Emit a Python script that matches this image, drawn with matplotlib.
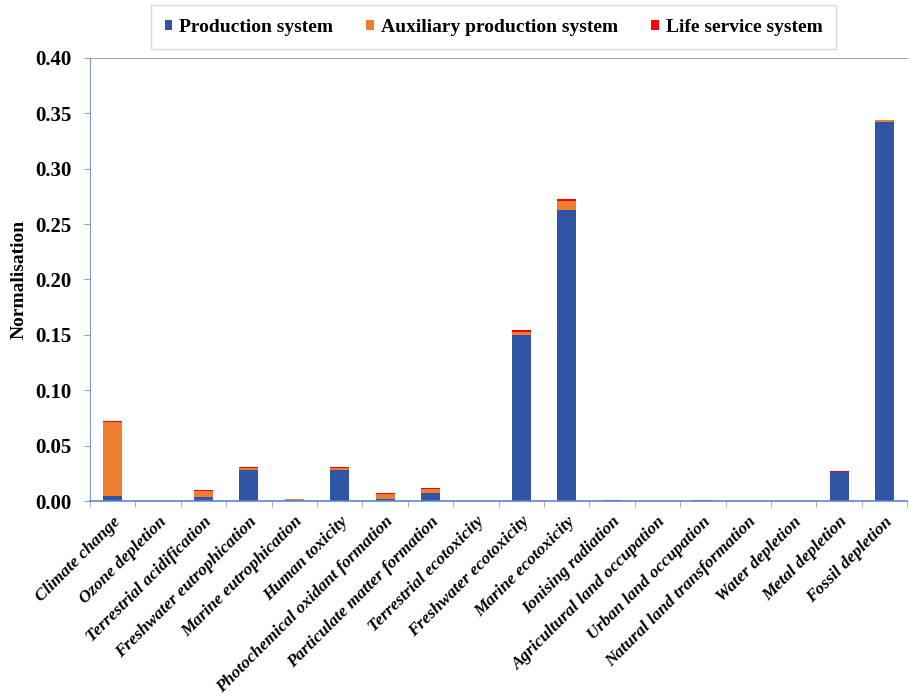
import numpy as np
import matplotlib
matplotlib.use('Agg')
import matplotlib.pyplot as plt

plt.rcParams['font.family'] = ['Liberation Serif', 'DejaVu Serif']
plt.rcParams['font.weight'] = 'bold'

categories = ['Climate change', 'Ozone depletion', 'Terrestrial acidification',
              'Freshwater eutrophication', 'Marine eutrophication', 'Human toxicity',
              'Photochemical oxidant formation', 'Particulate matter formation',
              'Terrestrial ecotoxicity', 'Freshwater ecotoxicity', 'Marine ecotoxicity',
              'Ionising radiation', 'Agricultural land occupation', 'Urban land occupation',
              'Natural land transformation', 'Water depletion', 'Metal depletion',
              'Fossil depletion']

production = [0.005, 0.0, 0.004, 0.028, 0.0005, 0.028, 0.002, 0.007, 0.0005, 0.150,
              0.263, 0.0007, 0.0005, 0.0008, 0.0002, 0.0, 0.026, 0.342]
auxiliary = [0.066, 0.0, 0.005, 0.002, 0.0012, 0.002, 0.004, 0.004, 0.0, 0.003,
             0.008, 0.0, 0.0, 0.0, 0.0, 0.0, 0.0007, 0.0015]
life_service = [0.001, 0.0, 0.001, 0.0005, 0.0003, 0.0007, 0.001, 0.001, 0.0, 0.001,
                0.002, 0.0, 0.0, 0.0, 0.0, 0.0, 0.0003, 0.0005]

blue = '#2F55A4'
orange = '#ED7D31'
red = '#FF0000'

x = np.arange(len(categories))
prod = np.array(production)
aux = np.array(auxiliary)
life = np.array(life_service)

fig = plt.figure(figsize=(9.09, 6.97), dpi=100)
ax = fig.add_axes([0.099, 0.281, 0.899, 0.636])

w = 0.42
ax.bar(x, prod, w, color=blue, label='Production system')
ax.bar(x, aux, w, bottom=prod, color=orange, label='Auxiliary production system')
ax.bar(x, life, w, bottom=prod + aux, color=red, label='Life service system')

ax.set_xlim(-0.5, len(categories) - 0.5)
ax.set_ylim(0, 0.40)
yt = np.arange(0, 0.41, 0.05)
ax.set_yticks(yt)
ax.set_yticklabels(['%.2f' % v for v in yt], fontsize=15, fontweight='bold')
ax.set_ylabel('Normalisation', fontsize=14, fontweight='bold', labelpad=6)

ax.set_xticks(x)
ax.set_xticklabels(categories, rotation=45, ha='right', rotation_mode='anchor',
                   fontsize=12.5, fontweight='bold', fontstyle='italic')
ax.tick_params(axis='x', length=0, pad=9)
ax.set_xticks(np.arange(-0.5, len(categories), 1), minor=True)
ax.tick_params(axis='x', which='minor', length=4, color='#A0A0A0')
ax.tick_params(axis='y', length=4, color='#A0A0A0', pad=9)

ax.spines['left'].set_color('#7F97C8')
ax.spines['bottom'].set_color('#5B86D0')
ax.spines['bottom'].set_linewidth(1.2)
ax.spines['top'].set_color('#A8A8A8')
ax.spines['right'].set_visible(False)

leg = fig.legend(loc='center', bbox_to_anchor=(0.543, 0.961), ncol=3, frameon=True,
                 fontsize=14, handlelength=0.4, handleheight=0.4, handletextpad=0.35,
                 columnspacing=1.7, fancybox=False, borderpad=0.7, borderaxespad=0)
leg.get_frame().set_edgecolor('#D0D0D0')
leg.get_frame().set_linewidth(1.0)
for t in leg.get_texts():
    t.set_fontweight('bold')

fig.savefig('out.png', dpi=100)
